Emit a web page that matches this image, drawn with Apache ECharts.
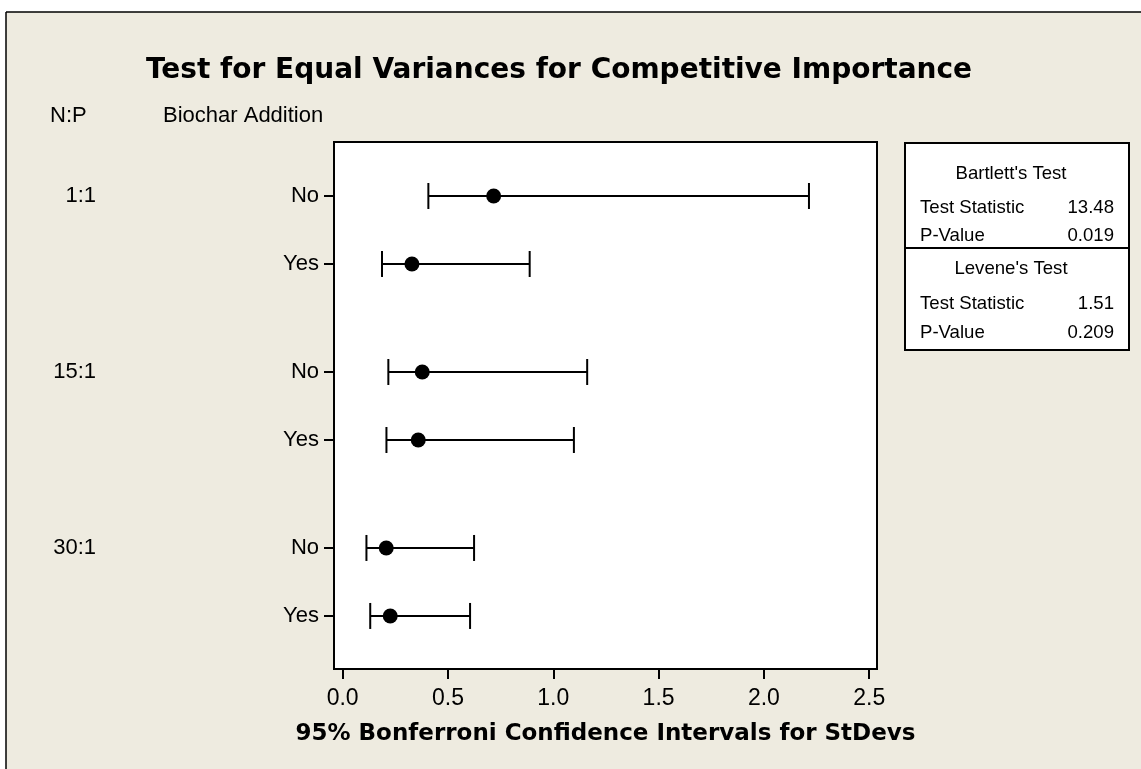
<!DOCTYPE html>
<html>
<head>
<meta charset="utf-8">
<script src="https://cdn.jsdelivr.net/npm/echarts@6/dist/echarts.min.js"></script>
<style>html,body{margin:0;padding:0;background:#fff}#c{width:1141px;height:769px}</style>
</head>
<body>
<div id="c"></div>
<script>
// ---- data ----
const npRatios = ['1:1', '15:1', '30:1'];
const biochar = ['No', 'Yes'];
const lowerCI = [0.407, 0.187, 0.217, 0.208, 0.113, 0.131];
const stDevs  = [0.717, 0.329, 0.378, 0.359, 0.207, 0.226];
const upperCI = [2.214, 0.888, 1.161, 1.098, 0.624, 0.605];
const xTicks = [0.0, 0.5, 1.0, 1.5, 2.0, 2.5];
const testNames = ["Bartlett's Test", "Levene's Test"];
const testStats = ['13.48', '1.51'];
const pValues = ['0.019', '0.209'];

// ---- layout helpers ----
const GROUP_STEP = 1 + 108 / 68;   // spacing between first rows of groups (in row units)
const rowPos = [];
const rowLabel = [];
npRatios.forEach((g, gi) => biochar.forEach((b, bi) => { rowPos.push(gi * GROUP_STEP + bi); rowLabel.push(b); }));
const groupPos = npRatios.map((g, gi) => gi * GROUP_STEP);
const findIdx = (arr, v) => arr.findIndex(p => Math.abs(p - v) < 1e-6);

const barData = rowPos.map((p, i) => [p, lowerCI[i], upperCI[i]]);
const dotData = rowPos.map((p, i) => [stDevs[i], p]);

const REG = 'Liberation Sans';
const BOLD = 'DejaVu Sans';
const BG = '#EEEBE0';

const chart = echarts.init(document.getElementById('c'));
const yMin = -0.794, yMax = 2 * GROUP_STEP + 1 + 0.78;

const tableX0 = 905, tableX1 = 1129, tableY0 = 143, tableY1 = 350, divY = 248;
const tCx = 1011, tL = 920, tR = 1114;
const TF = 18.6;
const txt = (text, x, y, align, size, bold) => ({
  type: 'text', x: x, y: y, silent: true,
  style: { text: text, fill: '#000', textAlign: align, textVerticalAlign: 'middle',
           font: (bold ? 'bold ' : '') + size + 'px "' + (bold ? BOLD : REG) + '"' }
});

chart.setOption({
  animation: false,
  backgroundColor: BG,
  grid: { left: 334, right: 1141 - 877, top: 142, bottom: 769 - 669, show: true,
          backgroundColor: '#fff', borderColor: '#000', borderWidth: 2 },
  xAxis: {
    type: 'value', min: -0.041, max: 2.537, position: 'bottom',
    axisLine: { show: false, onZero: false },
    splitLine: { show: false },
    axisTick: { show: true, customValues: xTicks, length: 10, lineStyle: { color: '#000', width: 2 } },
    axisLabel: { customValues: xTicks, formatter: v => v.toFixed(1), margin: 18,
                 fontFamily: REG, fontSize: 23, color: '#000' },
    name: '95% Bonferroni Confidence Intervals for StDevs', nameLocation: 'middle', nameGap: 54,
    nameTextStyle: { fontFamily: BOLD, fontWeight: 'bold', fontSize: 23, color: '#000' }
  },
  yAxis: [{
    type: 'value', inverse: true, min: yMin, max: yMax, position: 'left',
    axisLine: { show: false, onZero: false },
    splitLine: { show: false },
    axisTick: { show: true, customValues: rowPos, length: 10, lineStyle: { color: '#000', width: 2 } },
    axisLabel: { customValues: rowPos, formatter: v => { const i = findIdx(rowPos, v); return i >= 0 ? rowLabel[i] : ''; },
                 margin: 15, fontFamily: REG, fontSize: 22, color: '#000' }
  }, {
    type: 'value', inverse: true, min: yMin, max: yMax, position: 'left', offset: 238,
    axisLine: { show: false, onZero: false }, axisTick: { show: false }, splitLine: { show: false },
    axisLabel: { customValues: groupPos, formatter: v => { const i = findIdx(groupPos, v); return i >= 0 ? npRatios[i] : ''; },
                 margin: 0, fontFamily: REG, fontSize: 22, color: '#000' }
  }],
  graphic: [
    { type: 'rect', shape: { x: 0, y: 0, width: 1141, height: 12 }, style: { fill: '#fff' }, silent: true },
    { type: 'rect', shape: { x: 0, y: 0, width: 6, height: 769 }, style: { fill: '#fff' }, silent: true },
    { type: 'line', shape: { x1: 6, y1: 12, x2: 1141, y2: 12 }, style: { stroke: '#000', lineWidth: 1.5 }, silent: true },
    { type: 'line', shape: { x1: 6, y1: 12, x2: 6, y2: 769 }, style: { stroke: '#000', lineWidth: 1.5 }, silent: true },
    txt('Test for Equal Variances for Competitive Importance', 559, 71, 'center', 28, true),
    txt('N:P', 50, 116, 'left', 22, false),
    txt('Biochar Addition', 163, 116, 'left', 22, false),
    { type: 'rect', shape: { x: tableX0, y: tableY0, width: tableX1 - tableX0, height: tableY1 - tableY0 },
      style: { fill: '#fff', stroke: '#000', lineWidth: 2 }, silent: true },
    { type: 'line', shape: { x1: tableX0, y1: divY, x2: tableX1, y2: divY }, style: { stroke: '#000', lineWidth: 2 }, silent: true },
    txt(testNames[0], tCx, 174, 'center', TF, false),
    txt('Test Statistic', tL, 208, 'left', TF, false),
    txt(testStats[0], tR, 208, 'right', TF, false),
    txt('P-Value', tL, 236, 'left', TF, false),
    txt(pValues[0], tR, 236, 'right', TF, false),
    txt(testNames[1], tCx, 269, 'center', TF, false),
    txt('Test Statistic', tL, 304, 'left', TF, false),
    txt(testStats[1], tR, 304, 'right', TF, false),
    txt('P-Value', tL, 333, 'left', TF, false),
    txt(pValues[1], tR, 333, 'right', TF, false)
  ],
  series: [{
    type: 'custom',
    xAxisIndex: 0, yAxisIndex: 0,
    encode: { x: [1, 2], y: 0 },
    data: barData,
    renderItem: (params, api) => {
      const y = api.value(0), lo = api.value(1), hi = api.value(2);
      const p1 = api.coord([lo, y]), p2 = api.coord([hi, y]);
      const h = 13;
      const st = { stroke: '#000', lineWidth: 2 };
      return { type: 'group', children: [
        { type: 'line', shape: { x1: p1[0], y1: p1[1], x2: p2[0], y2: p2[1] }, style: st },
        { type: 'line', shape: { x1: p1[0], y1: p1[1] - h, x2: p1[0], y2: p1[1] + h }, style: st },
        { type: 'line', shape: { x1: p2[0], y1: p2[1] - h, x2: p2[0], y2: p2[1] + h }, style: st }
      ]};
    }
  }, {
    type: 'scatter', xAxisIndex: 0, yAxisIndex: 0,
    data: dotData, symbol: 'circle', symbolSize: 15,
    itemStyle: { color: '#000', opacity: 1 }, z: 5
  }]
});
</script>
</body>
</html>
